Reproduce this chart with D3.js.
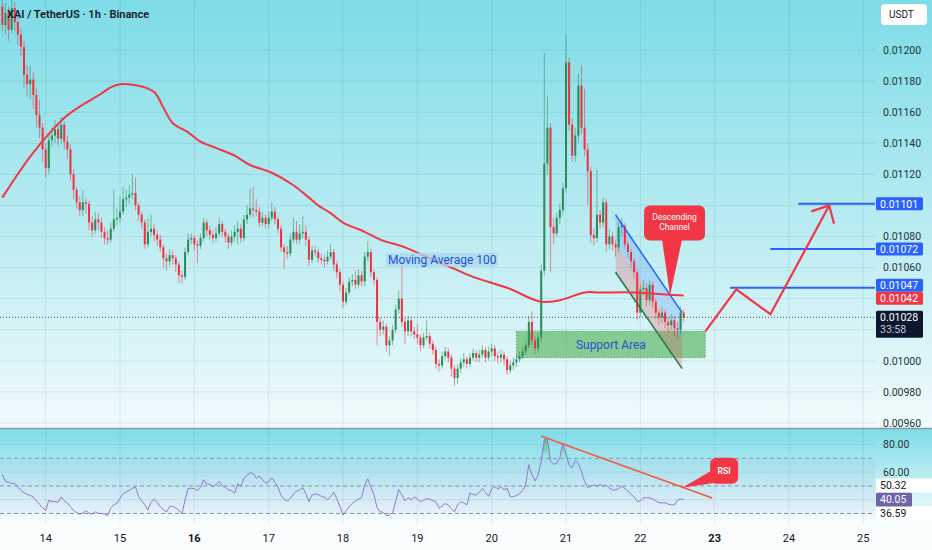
<!DOCTYPE html>
<html><head><meta charset="utf-8">
<script src="https://cdn.jsdelivr.net/npm/d3@7"></script>
<style>html,body{margin:0;padding:0;background:#fff;}svg{display:block;font-family:Roboto,"Noto Sans","Liberation Sans",sans-serif;}</style>
</head><body><svg id="c" width="932" height="550"></svg>
<script>
// ---------------- data ----------------
const title = "XAI / TetherUS · 1h · Binance";
const currency = "USDT";
const dayLabels = ["14","15","16","17","18","19","20","21","22","23","24","25"];
const boldDays = ["16","23"];
const priceTicks = [0.0120,0.0118,0.0116,0.0114,0.0112,0.0110,0.0108,0.0106,0.0104,0.0102,0.0100,0.0098,0.0096];
const rsiTicks = [80,60,40];
const rsiBands = [70,50,30];
const firstOpen = 0.01228;
const closes = [0.01216,0.01224,0.01213,0.01227,0.01218,0.01210,0.01202,0.01184,0.01178,0.01181,
0.01171,0.01158,0.01150,0.01136,0.01124,0.01142,0.01145,0.01149,0.01143,0.01152,
0.01141,0.01136,0.01120,0.01110,0.01102,0.01097,0.01102,0.01101,0.01089,0.01084,
0.01091,0.01089,0.01083,0.01079,0.01078,0.01085,0.01091,0.01092,0.01096,0.01104,
0.01105,0.01107,0.01108,0.01100,0.01094,0.01089,0.01075,0.01083,0.01085,0.01081,
0.01078,0.01073,0.01066,0.01064,0.01068,0.01066,0.01062,0.01055,0.01054,0.01070,
0.01078,0.01079,0.01075,0.01074,0.01079,0.01089,0.01084,0.01081,0.01079,0.01082,
0.01088,0.01083,0.01080,0.01076,0.01080,0.01083,0.01085,0.01079,0.01091,0.01094,
0.01098,0.01097,0.01096,0.01089,0.01092,0.01088,0.01092,0.01096,0.01091,0.01085,
0.01073,0.01070,0.01069,0.01078,0.01083,0.01078,0.01082,0.01083,0.01078,0.01065,
0.01071,0.01070,0.01066,0.01065,0.01064,0.01067,0.01070,0.01062,0.01057,0.01049,
0.01038,0.01044,0.01051,0.01052,0.01049,0.01055,0.01051,0.01067,0.01070,0.01057,
0.01052,0.01025,0.01020,0.01022,0.01010,0.01013,0.01020,0.01033,0.01040,0.01025,
0.01019,0.01026,0.01019,0.01017,0.01015,0.01010,0.01015,0.01016,0.01011,0.01007,
0.00998,0.00997,0.01003,0.01006,0.01002,0.00995,0.00989,0.00995,0.00999,0.01001,
0.00998,0.01002,0.01005,0.01002,0.01004,0.01007,0.01002,0.01006,0.01008,0.01003,
0.01002,0.01004,0.01001,0.00994,0.00997,0.00999,0.01001,0.01003,0.01006,0.01010,
0.01025,0.01013,0.01008,0.01015,0.01058,0.01127,0.01150,0.01086,0.01082,0.01092,
0.01097,0.01111,0.01192,0.01152,0.01132,0.01145,0.01177,0.01150,0.01136,0.01122,
0.01081,0.01079,0.01094,0.01089,0.01102,0.01075,0.01080,0.01075,0.01073,0.01086,
0.01087,0.01075,0.01070,0.01064,0.01057,0.01031,0.01046,0.01047,0.01039,0.01049,
0.01038,0.01031,0.01028,0.01031,0.01025,0.01023,0.01026,0.01021,0.01020,0.01031,0.01028];
const highs = [0.01234,0.01230,0.01228,0.01235,0.01231,0.01222,0.01214,0.01206,0.01190,0.01190,
0.01186,0.01176,0.01168,0.01153,0.01140,0.01146,0.01150,0.01155,0.01152,0.01157,
0.01154,0.01145,0.01139,0.01123,0.01112,0.01106,0.01110,0.01105,0.01103,0.01093,
0.01096,0.01095,0.01092,0.01086,0.01084,0.01089,0.01110,0.01098,0.01106,0.01112,
0.01110,0.01113,0.01120,0.01118,0.01102,0.01096,0.01091,0.01092,0.01094,0.01088,
0.01084,0.01081,0.01075,0.01069,0.01072,0.01071,0.01068,0.01064,0.01058,0.01073,
0.01082,0.01082,0.01081,0.01078,0.01082,0.01092,0.01091,0.01087,0.01084,0.01086,
0.01092,0.01090,0.01085,0.01082,0.01084,0.01087,0.01090,0.01088,0.01094,0.01100,
0.01111,0.01112,0.01104,0.01099,0.01096,0.01094,0.01096,0.01102,0.01099,0.01093,
0.01087,0.01075,0.01074,0.01082,0.01092,0.01090,0.01088,0.01093,0.01087,0.01080,
0.01074,0.01074,0.01072,0.01069,0.01068,0.01071,0.01075,0.01072,0.01064,0.01059,
0.01051,0.01047,0.01054,0.01056,0.01058,0.01059,0.01058,0.01070,0.01077,0.01072,
0.01059,0.01054,0.01028,0.01026,0.01024,0.01016,0.01023,0.01036,0.01045,0.01061,
0.01028,0.01029,0.01028,0.01022,0.01024,0.01017,0.01018,0.01026,0.01018,0.01013,
0.01009,0.01001,0.01006,0.01009,0.01008,0.01004,0.00997,0.00998,0.01002,0.01005,
0.01003,0.01005,0.01008,0.01007,0.01007,0.01010,0.01009,0.01009,0.01011,0.01010,
0.01006,0.01007,0.01006,0.01003,0.01000,0.01002,0.01004,0.01006,0.01009,0.01013,
0.01029,0.01032,0.01016,0.01018,0.01062,0.01198,0.01170,0.01153,0.01092,0.01095,
0.01101,0.01115,0.01210,0.01195,0.01156,0.01150,0.01185,0.01190,0.01175,0.01140,
0.01125,0.01085,0.01123,0.01097,0.01105,0.01104,0.01085,0.01083,0.01078,0.01089,
0.01092,0.01089,0.01077,0.01072,0.01066,0.01059,0.01049,0.01052,0.01050,0.01052,
0.01051,0.01040,0.01033,0.01035,0.01033,0.01028,0.01030,0.01029,0.01025,0.01035,0.01033];
const lows = [0.01212,0.01210,0.01206,0.01211,0.01212,0.01203,0.01196,0.01176,0.01170,0.01168,
0.01162,0.01150,0.01143,0.01128,0.01118,0.01120,0.01138,0.01140,0.01138,0.01140,
0.01136,0.01130,0.01116,0.01104,0.01098,0.01093,0.01093,0.01095,0.01084,0.01080,
0.01082,0.01084,0.01079,0.01075,0.01075,0.01076,0.01083,0.01087,0.01089,0.01094,
0.01099,0.01101,0.01104,0.01097,0.01090,0.01085,0.01072,0.01073,0.01080,0.01077,
0.01074,0.01070,0.01060,0.01058,0.01061,0.01062,0.01057,0.01050,0.01050,0.01052,
0.01068,0.01075,0.01071,0.01063,0.01072,0.01077,0.01080,0.01078,0.01076,0.01077,
0.01080,0.01080,0.01076,0.01072,0.01074,0.01077,0.01075,0.01076,0.01077,0.01088,
0.01092,0.01092,0.01093,0.01086,0.01087,0.01085,0.01085,0.01090,0.01088,0.01082,
0.01070,0.01059,0.01066,0.01067,0.01076,0.01075,0.01075,0.01079,0.01074,0.01061,
0.01063,0.01067,0.01063,0.01062,0.01060,0.01062,0.01065,0.01058,0.01053,0.01045,
0.01034,0.01036,0.01042,0.01048,0.01046,0.01047,0.01048,0.01048,0.01064,0.01054,
0.01049,0.01010,0.01016,0.01017,0.01006,0.01003,0.01010,0.01018,0.01030,0.01022,
0.01011,0.01016,0.01016,0.01014,0.01011,0.01006,0.01008,0.01013,0.01008,0.01004,
0.00995,0.00993,0.00995,0.01001,0.00999,0.00990,0.00984,0.00985,0.00992,0.00996,
0.00995,0.00996,0.01000,0.00999,0.00999,0.01002,0.00999,0.01000,0.01003,0.01000,
0.00998,0.00999,0.00997,0.00991,0.00992,0.00994,0.00996,0.00999,0.01001,0.01004,
0.01008,0.01010,0.01004,0.01005,0.01012,0.01055,0.01120,0.01057,0.01075,0.01080,
0.01088,0.01094,0.01108,0.01148,0.01128,0.01128,0.01140,0.01146,0.01132,0.01100,
0.01076,0.01074,0.01076,0.01085,0.01086,0.01070,0.01072,0.01071,0.01067,0.01070,
0.01080,0.01072,0.01066,0.01060,0.01053,0.01026,0.01028,0.01042,0.01035,0.01036,
0.01034,0.01027,0.01023,0.01024,0.01021,0.01018,0.01020,0.01016,0.01014,0.01017,0.01025];
const rsiValues = [58.5,53.2,52.7,51.7,51.9,49.3,46.8,45.2,43.7,43.2,
41.8,39.1,36.7,34.2,32.3,39.6,38.6,38.6,38.1,42.0,
39.1,37.6,35.0,32.3,30.6,29.4,30.4,32.1,30.1,29.6,
31.3,30.1,30.1,29.6,28.4,34.0,36.2,37.4,41.0,44.4,
45.6,46.8,48.3,49.3,42.2,39.1,36.4,32.5,38.1,40.3,
37.9,35.0,32.8,31.1,35.0,35.2,34.0,32.5,29.9,39.8,
48.1,48.3,48.1,46.6,49.0,54.4,51.2,51.2,49.5,50.7,
53.2,50.2,49.0,47.3,46.6,44.7,51.5,49.5,55.6,57.5,
59.5,59.0,55.6,57.3,54.4,51.9,53.2,55.8,52.7,49.0,
43.0,40.3,39.1,40.8,44.2,46.1,47.1,48.8,44.4,38.6,
43.5,44.2,43.7,42.5,41.8,40.1,42.2,45.4,40.8,35.0,
28.9,32.1,35.0,37.2,39.3,40.3,41.5,50.7,55.1,49.0,
43.5,34.2,31.3,30.8,28.4,28.9,30.6,38.6,47.3,43.5,
39.1,41.5,39.8,42.0,40.8,38.4,39.6,40.8,40.3,39.3,
38.6,33.8,35.5,37.2,36.2,33.3,31.3,36.2,
38.6,37.6,36.2,44.7,43.9,43.2,45.2,48.1,45.2,42.5,47.8,49.5,
47.8,49.3,47.1,48.3,42.2,42.2,43.0,44.4,46.6,51.2,
65.3,58.0,53.6,58.0,67.7,83.5,84.2,68.0,65.8,66.2,
70.6,81.0,73.0,65.3,63.0,68.7,66.5,60.4,53.2,48.8,
49.8,50.5,49.8,51.0,49.8,50.5,48.3,47.1,47.1,48.1,
49.8,48.3,46.1,43.9,42.0,38.6,39.1,41.3,41.5,41.3,
40.5,39.1,37.9,37.6,37.9,36.7,36.2,36.2,39.8,40.5,40.05];
// MA 100 read at sample hours (hour index from first candle)
const maHours  = [0,10,21,32,35,38,44,49,52,55,60,64,69,75,80,87,94,99,102,106,110,117,122,130,138,145,152,163,174,180,188,193,204,212,220];
const maValues = [0.01105,0.01134,0.01158,0.01172,0.01176,0.01178,0.01177,0.01173,0.01163,0.01153,0.01147,0.01141,0.01137,0.01132,0.01126,0.01121,0.01113,0.01105,0.01100,0.01095,0.01089,0.01083,0.01078,0.01073,0.01066,0.01060,0.01054,0.01047,0.01038,0.01039,0.01044,0.01044,0.01044,0.01043,0.01042];
const maLabel = "Moving Average 100";
const lastPrice = 0.01028, countdown = "33:58", maLast = 0.01042;
const targetLevels = [0.01101, 0.01072, 0.01047];
const targetStartHour = [257, 248, 235];
const rsiSideLabels = [50.32, 40.05, 36.59];
// annotations (hour index, value)
const supportHours = [166, 227], supportPrices = [0.01019, 0.01002];
const channelHours = [198, 219.5];
const channelUpper = [0.01094, 0.01031];
const channelLower = [0.01057, 0.00995];
const pathHours  = [227, 237, 248, 267];
const pathPrices = [0.01019, 0.01046, 0.01030, 0.01100];
const channelTip = [215.6, 0.01042];
const rsiTrendHours = [173.9, 229.2], rsiTrendValues = [86.2, 41.3];
const rsiTip = [219.5, 48.6];
const maLabelAt = [124.5, 0.01065];

// ---------------- layout ----------------
const W = 932, H = 550, plotR = 875, mainB = 428, rsiT = 429, rsiB = 525;
const t0 = Date.UTC(2025,5,13,10), HOUR = 3600e3;
const T = h => new Date(t0 + h*HOUR);
const x = d3.scaleUtc().domain([Date.UTC(2025,5,14), Date.UTC(2025,5,25)]).range([45.7, 863.3]);
const y = d3.scaleLinear().domain([0.0096, 0.0120]).range([423, 50]);
const ry = d3.scaleLinear().domain([30, 80]).range([513.5, 444.5]);
const X = h => x(T(h));

const svg = d3.select("#c");
const defs = svg.append("defs");
const g1 = defs.append("linearGradient").attr("id","bgMain").attr("x1",0).attr("y1",0).attr("x2",0).attr("y2",1);
g1.append("stop").attr("offset","0").attr("stop-color","#7ddce8");
g1.append("stop").attr("offset","0.5").attr("stop-color","#b6ebf1");
g1.append("stop").attr("offset","1").attr("stop-color","#f1fbfc");
const g2 = defs.append("linearGradient").attr("id","bgRsi").attr("x1",0).attr("y1",0).attr("x2",0).attr("y2",1);
g2.append("stop").attr("offset","0").attr("stop-color","#7ddce8");
g2.append("stop").attr("offset","1").attr("stop-color","#fbfeff");
const g3 = defs.append("linearGradient").attr("id","obFill").attr("gradientUnits","userSpaceOnUse")
  .attr("x1",0).attr("x2",0).attr("y1",ry(88)).attr("y2",ry(70));
g3.append("stop").attr("offset","0").attr("stop-color","#43a047").attr("stop-opacity",0.75);
g3.append("stop").attr("offset","1").attr("stop-color","#43a047").attr("stop-opacity",0);
defs.append("clipPath").attr("id","clipMain").append("rect").attr("x",0).attr("y",0).attr("width",plotR).attr("height",mainB);
defs.append("clipPath").attr("id","clipRsi").append("rect").attr("x",0).attr("y",rsiT).attr("width",plotR).attr("height",rsiB-rsiT);

svg.append("rect").attr("width",W).attr("height",H).attr("fill","#fafdfe");
svg.append("rect").attr("x",0).attr("y",0).attr("width",W).attr("height",mainB).attr("fill","url(#bgMain)");
svg.append("rect").attr("x",0).attr("y",rsiT).attr("width",W).attr("height",rsiB-rsiT).attr("fill","url(#bgRsi)");

const gridC = "rgba(30,90,110,0.10)";
const dayDates = dayLabels.map(d => new Date(Date.UTC(2025,5,+d)));
svg.append("g").selectAll("line").data(dayDates).join("line")
  .attr("x1",d=>x(d)).attr("x2",d=>x(d)).attr("y1",0).attr("y2",rsiB)
  .attr("stroke",gridC).attr("stroke-width",1);
svg.append("g").selectAll("line").data(priceTicks).join("line")
  .attr("x1",0).attr("x2",plotR).attr("y1",d=>y(d)).attr("y2",d=>y(d))
  .attr("stroke",gridC);
svg.append("g").selectAll("line").data(rsiTicks).join("line")
  .attr("x1",0).attr("x2",plotR).attr("y1",d=>ry(d)).attr("y2",d=>ry(d))
  .attr("stroke",gridC);

// ---------------- main panel ----------------
const main = svg.append("g").attr("clip-path","url(#clipMain)");

main.append("rect")
  .attr("x",X(supportHours[0])).attr("width",X(supportHours[1])-X(supportHours[0]))
  .attr("y",y(supportPrices[0])).attr("height",y(supportPrices[1])-y(supportPrices[0]))
  .attr("fill","#4caf50").attr("fill-opacity",0.6)
  .attr("stroke","#3d9b4a").attr("stroke-width",1).attr("stroke-dasharray","1,2");

const cu = channelUpper.map((p,k)=>[X(channelHours[k]), y(p)]);
const cl = channelLower.map((p,k)=>[X(channelHours[k]), y(p)]);
const cm = cu.map((p,k)=>[p[0], (p[1]+cl[k][1])/2]);
main.append("path").attr("d", d3.line()([cm[0],cm[1],cl[1],cl[0]])+"Z").attr("fill","#f23645").attr("fill-opacity",0.22);
main.append("path").attr("d", d3.line()([cu[0],cu[1],cm[1],cm[0]])+"Z").attr("fill","#2979ff").attr("fill-opacity",0.2);

const candles = closes.map((c,i)=>({i, o: i? closes[i-1] : firstOpen, c, h: highs[i], l: lows[i]}));
const upC = "#2b8a55", dnC = "#f0303f";
const cg = main.append("g");
cg.selectAll("line").data(candles).join("line")
  .attr("x1",d=>X(d.i)).attr("x2",d=>X(d.i)).attr("y1",d=>y(d.h)).attr("y2",d=>y(d.l))
  .attr("stroke",d=>d.c>=d.o?upC:dnC).attr("stroke-opacity",0.55).attr("stroke-width",1);
cg.selectAll("rect").data(candles).join("rect")
  .attr("x",d=>X(d.i)-1).attr("width",2)
  .attr("y",d=>y(Math.max(d.o,d.c)))
  .attr("height",d=>Math.max(1, Math.abs(y(d.o)-y(d.c))))
  .attr("fill",d=>d.c>=d.o?upC:dnC);

main.append("line").attr("x1",cu[0][0]).attr("y1",cu[0][1]).attr("x2",cu[1][0]).attr("y2",cu[1][1]).attr("stroke","#2962ff").attr("stroke-width",1.5);
main.append("line").attr("x1",cl[0][0]).attr("y1",cl[0][1]).attr("x2",cl[1][0]).attr("y2",cl[1][1]).attr("stroke","#1f7a45").attr("stroke-width",1.5);

main.append("path").datum(maHours.map((h,k)=>[X(h), y(maValues[k])]))
  .attr("d", d3.line().curve(d3.curveCatmullRom.alpha(0.5)))
  .attr("fill","none").attr("stroke","#f23645").attr("stroke-width",2);

main.append("line").attr("x1",0).attr("x2",plotR).attr("y1",y(lastPrice)).attr("y2",y(lastPrice))
  .attr("stroke","#4a4f5a").attr("stroke-width",1).attr("stroke-dasharray","1,2");

targetLevels.forEach((p,k)=>{
  main.append("line").attr("x1",X(targetStartHour[k])).attr("x2",plotR).attr("y1",y(p)).attr("y2",y(p))
    .attr("stroke","#2962ff").attr("stroke-width",2);
});

const pp = pathHours.map((h,k)=>[X(h), y(pathPrices[k])]);
main.append("path").attr("d", d3.line()(pp)).attr("fill","none").attr("stroke","#f23645").attr("stroke-width",2.2).attr("stroke-linejoin","miter");
{
  const a = pp[pp.length-2], b = pp[pp.length-1];
  const ang = Math.atan2(a[1]-b[1], a[0]-b[0]);
  [0.75,-0.75].forEach(dA=>{
    main.append("line").attr("x1",b[0]).attr("y1",b[1])
      .attr("x2",b[0]+18*Math.cos(ang+dA)).attr("y2",b[1]+18*Math.sin(ang+dA))
      .attr("stroke","#f23645").attr("stroke-width",2.2).attr("stroke-linecap","round");
  });
}

{
  const lx = X(maLabelAt[0]), ly = y(maLabelAt[1]);
  main.append("rect").attr("x",lx-2).attr("y",ly-7).attr("width",112).attr("height",14)
    .attr("fill","#a9d8ee").attr("fill-opacity",0.75);
  main.append("text").attr("x",lx).attr("y",ly).attr("dy","0.35em").attr("font-size",12)
    .attr("fill","#1f4fd8").text(maLabel);
}
main.append("text").attr("x",(X(supportHours[0])+X(supportHours[1]))/2).attr("y",(y(supportPrices[0])+y(supportPrices[1]))/2)
  .attr("dy","0.38em").attr("text-anchor","middle").attr("font-size",12).attr("fill","#2a50cf").text("Support Area");

{
  const tx = X(channelTip[0]), ty = y(channelTip[1]);
  main.append("path").attr("d", d3.line()([[tx-8,ty-56],[tx+12,ty-56],[tx,ty]])+"Z").attr("fill","#f23645");
  main.append("rect").attr("x",tx-26).attr("y",ty-90).attr("width",61).attr("height",35).attr("rx",6).attr("fill","#f23645");
  main.append("text").attr("x",tx+4.5).attr("y",ty-76).attr("text-anchor","middle").attr("font-size",8.5).attr("fill","#fff").text("Descending");
  main.append("text").attr("x",tx+4.5).attr("y",ty-66).attr("text-anchor","middle").attr("font-size",8.5).attr("fill","#fff").text("Channel");
}

svg.append("text").attr("x",7).attr("y",18).attr("font-size",11).attr("font-weight",600).attr("fill","#131722").text(title);

svg.append("line").attr("x1",0).attr("x2",W).attr("y1",mainB+0.5).attr("y2",mainB+0.5).attr("stroke","#8c9aa0").attr("stroke-width",1.5);

// ---------------- RSI panel ----------------
const rg = svg.append("g").attr("clip-path","url(#clipRsi)");
rg.append("rect").attr("x",0).attr("width",plotR).attr("y",ry(70)).attr("height",ry(30)-ry(70)).attr("fill","#7e57c2").attr("fill-opacity",0.05);
rg.selectAll("line.band").data(rsiBands).join("line").attr("class","band")
  .attr("x1",0).attr("x2",plotR).attr("y1",d=>ry(d)).attr("y2",d=>ry(d))
  .attr("stroke","#8d939e").attr("stroke-dasharray","4,3").attr("stroke-width",1);
rg.append("path").datum(rsiValues)
  .attr("d", d3.area().x((d,i)=>X(i)).y0(ry(70)).y1(d=>ry(Math.max(d,70))))
  .attr("fill","url(#obFill)");
rg.append("path").datum(rsiValues)
  .attr("d", d3.line().x((d,i)=>X(i)).y(d=>ry(d)))
  .attr("fill","none").attr("stroke","#9575cd").attr("stroke-width",1);
rg.append("line").attr("x1",X(rsiTrendHours[0])).attr("y1",ry(rsiTrendValues[0]))
  .attr("x2",X(rsiTrendHours[1])).attr("y2",ry(rsiTrendValues[1]))
  .attr("stroke","#f4583f").attr("stroke-width",1.6);
{
  const tx = X(rsiTip[0]), ty = ry(rsiTip[1]);
  rg.append("path").attr("d", d3.line()([[tx+31,ty-18],[tx+33,ty-5],[tx,ty]])+"Z").attr("fill","#f23645");
  rg.append("rect").attr("x",tx+28).attr("y",ty-30).attr("width",28).attr("height",26).attr("rx",6).attr("fill","#f23645");
  rg.append("text").attr("x",tx+42).attr("y",ty-17).attr("dy","0.35em").attr("text-anchor","middle").attr("font-size",8.5).attr("font-weight",600).attr("fill","#fff").text("RSI");
}

// ---------------- right axis ----------------
const axC = "#1c3536";
function spread(items){
  items.sort((a,b)=>a.y-b.y);
  items.forEach(d=>d.ly=d.y);
  for (let it=0; it<30; it++){
    let moved=false;
    for (let k=1;k<items.length;k++){
      const a=items[k-1], b=items[k];
      const gap = (b.ly - b.top) - (a.ly + a.bot);
      if (gap < 0){
        if (a.fixed) b.ly -= gap; else if (b.fixed) a.ly += gap; else { a.ly += gap/2; b.ly -= gap/2; }
        moved=true;
      }
    }
    if(!moved) break;
  }
  return items;
}
const boxes = spread([
  ...targetLevels.map(p=>({y:y(p), v:p, kind:"blue", top:6.5, bot:6.5})),
  {y:y(maLast), v:maLast, kind:"red", top:6.5, bot:6.5},
  {y:y(lastPrice), v:lastPrice, kind:"last", top:6.5, bot:20.5, fixed:true}
]);
const fmt = d3.format(".5f");
const tickLabels = priceTicks.filter(p=>{
  const ty = y(p);
  return !boxes.some(b => ty+5.5 > b.ly-b.top && ty-5.5 < b.ly+b.bot);
});
svg.append("g").selectAll("text").data(tickLabels).join("text")
  .attr("x",883).attr("y",d=>y(d)).attr("dy","0.35em").attr("font-size",10.5).attr("fill",axC).text(fmt);
boxes.forEach(b=>{
  const col = b.kind==="blue" ? "#2962ff" : b.kind==="red" ? "#f23645" : "#0e1730";
  svg.append("rect").attr("x",876).attr("y",b.ly-b.top).attr("width",47).attr("height",b.top+b.bot).attr("rx",1.5).attr("fill",col);
  svg.append("text").attr("x",880).attr("y",b.ly).attr("dy","0.35em").attr("font-size",10.5).attr("fill","#fff").text(fmt(b.v));
  if (b.kind==="last") svg.append("text").attr("x",880).attr("y",b.ly+12.5).attr("dy","0.35em").attr("font-size",10.5).attr("fill","#c3c7d2").text(countdown);
});

svg.append("rect").attr("x",881).attr("y",4).attr("width",46).attr("height",21).attr("rx",4).attr("fill","#ffffff");
svg.append("text").attr("x",889).attr("y",14.5).attr("dy","0.35em").attr("font-size",10).attr("fill","#131722").text(currency);

const rboxes = spread(rsiSideLabels.map(v=>({y:ry(v), v, top:7, bot:7, fixed: v===rsiValues[rsiValues.length-1]})));
const rsiTickLabels = rsiTicks.filter(v=>{
  const ty = ry(v);
  return !rboxes.some(b => ty+5.5 > b.ly-b.top+1 && ty-5.5 < b.ly+b.bot-1);
});
svg.append("g").selectAll("text").data(rsiTickLabels).join("text")
  .attr("x",883).attr("y",d=>ry(d)).attr("dy","0.35em").attr("font-size",10.5).attr("fill",axC).text(d3.format(".2f"));
rboxes.forEach(b=>{
  const isMain = b.fixed;
  svg.append("rect").attr("x",876).attr("y",b.ly-b.top).attr("width",isMain?36:56).attr("height",b.top+b.bot)
    .attr("rx",isMain?1.5:0).attr("fill",isMain?"#6e64a8":"#ffffff");
  svg.append("text").attr("x",880).attr("y",b.ly).attr("dy","0.35em").attr("font-size",10.5).attr("fill",isMain?"#fff":"#131722").text(d3.format(".2f")(b.v));
});

svg.append("g").selectAll("text").data(dayLabels).join("text")
  .attr("x",d=>x(new Date(Date.UTC(2025,5,+d)))).attr("y",538).attr("dy","0.35em")
  .attr("text-anchor","middle").attr("font-size",11)
  .attr("font-weight",d=>boldDays.includes(d)?700:400).attr("fill","#131722").text(d=>d);
</script></body></html>
